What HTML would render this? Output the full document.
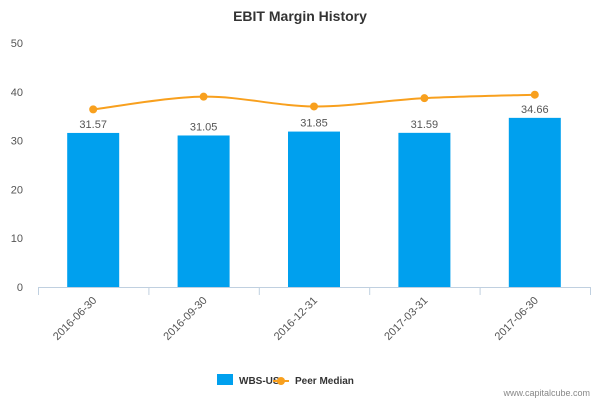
<!DOCTYPE html>
<html><head><meta charset="utf-8"><style>
body{margin:0;background:#fff;font-family:"Liberation Sans",sans-serif}
svg text{font-family:"Liberation Sans",sans-serif}
</style></head><body>
<svg id="chart" width="600" height="400" xmlns="http://www.w3.org/2000/svg">
<text x="300" y="21" text-anchor="middle" font-size="14" font-weight="bold" fill="#333">EBIT Margin History</text>
<g id="yaxis"></g>
<g id="xaxis"></g>
<g id="bars"></g>
<g id="line"></g>
<g>
<g><rect x="217" y="374" width="16" height="11" fill="#00a0ee"/><text x="239" y="384" font-size="10" font-weight="bold" fill="#333">WBS-US</text></g>
<g><line x1="273" y1="381" x2="289" y2="381" stroke="#f8a01e" stroke-width="2"/><circle cx="281" cy="381" r="4" fill="#f8a01e"/><text x="295" y="384" font-size="10" font-weight="bold" fill="#333">Peer Median</text></g>
</g>
<text x="590" y="396" text-anchor="end" font-size="9" fill="#888">www.capitalcube.com</text>
</svg>
<script>
const categories=["2016-06-30","2016-09-30","2016-12-31","2017-03-31","2017-06-30"];
const companyValues=[31.57,31.05,31.85,31.59,34.66];
const peerValues=[36.4,39.0,37.0,38.7,39.4];
const yTicks=[0,10,20,30,40,50];
const NS="http://www.w3.org/2000/svg";
const x0=38,x1=590,yBase=287,yTop=43,yMax=50;
const band=(x1-x0)/categories.length;
const xC=i=>x0+band*(i+0.5);
const y=v=>yBase-(v/yMax)*(yBase-yTop);
function mk(tag,attrs,parent,txt){const e=document.createElementNS(NS,tag);for(const k in attrs)e.setAttribute(k,attrs[k]);if(txt!=null)e.textContent=txt;parent.appendChild(e);return e;}
const ya=document.getElementById('yaxis'),xa=document.getElementById('xaxis'),bg=document.getElementById('bars'),lg=document.getElementById('line');
yTicks.forEach(t=>{const el=mk('text',{x:23,y:y(t)+4,'text-anchor':'end','font-size':11,fill:'#555'},ya,t);

});
mk('line',{x1:x0,y1:yBase+0.5,x2:x1,y2:yBase+0.5,stroke:'#c0d0e0'},xa);
for(let i=0;i<=categories.length;i++)mk('line',{x1:x0+band*i+0.5,y1:yBase,x2:x0+band*i+0.5,y2:yBase+8,stroke:'#c0d0e0'},xa);
categories.forEach((c,i)=>{const cx=xC(i);
const el=mk('text',{x:cx+4,y:yBase+14,'text-anchor':'end','font-size':11,fill:'#555',transform:`rotate(-45 ${cx+4} ${yBase+14})`},xa,c);


const r=mk('rect',{x:cx-26,y:y(companyValues[i]),width:52,height:yBase-y(companyValues[i]),fill:'#00a0ee'},bg);


const l=mk('text',{x:cx,y:y(companyValues[i])-5,'text-anchor':'middle','font-size':11,fill:'#555'},bg,companyValues[i].toFixed(2));

});
const pts=peerValues.map((v,i)=>[xC(i),y(v)]);
let d=`M${pts[0][0]},${pts[0][1]}`;
for(let i=0;i<pts.length-1;i++){const p0=pts[i-1]||pts[i],p1=pts[i],p2=pts[i+1],p3=pts[i+2]||p2;
d+=` C${p1[0]+(p2[0]-p0[0])/6},${p1[1]+(p2[1]-p0[1])/6} ${p2[0]-(p3[0]-p1[0])/6},${p2[1]-(p3[1]-p1[1])/6} ${p2[0]},${p2[1]}`;}
const path=mk('path',{d:d,fill:'none',stroke:'#f8a01e','stroke-width':2},lg);


pts.forEach((p,i)=>{const c=mk('circle',{cx:p[0],cy:p[1],r:4,fill:'#f8a01e'},lg);

});
</script>
</body></html>
